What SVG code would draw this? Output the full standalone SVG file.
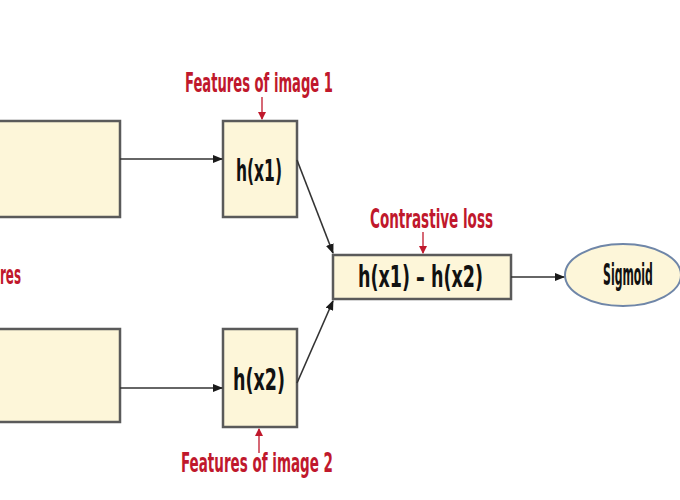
<svg xmlns="http://www.w3.org/2000/svg" width="680" height="500" viewBox="0 0 680 500">
<defs>
<marker id="ah" markerWidth="10" markerHeight="8" refX="9" refY="4" orient="auto" markerUnits="userSpaceOnUse">
<path d="M0,0 L10,4 L0,8 Z" fill="#1a1a1a"/>
</marker>
<marker id="rh" markerWidth="8" markerHeight="8" refX="7" refY="4" orient="auto" markerUnits="userSpaceOnUse">
<path d="M0,0 L8,4 L0,8 Z" fill="#c0182c"/>
</marker>
</defs>
<style>
.box{fill:#fdf6d9;stroke:#5a5a5a;stroke-width:2.5}
.lbl{font-family:"DejaVu Sans Condensed","Liberation Sans Narrow","DejaVu Sans",sans-serif;font-weight:bold;fill:#111;font-size:31px}
.red{font-family:"DejaVu Sans Condensed","Liberation Sans Narrow","DejaVu Sans",sans-serif;font-weight:bold;fill:#c0182c;font-size:27px}
.con{stroke:#333;stroke-width:1.6;fill:none;marker-end:url(#ah)}
.rcon{stroke:#c0182c;stroke-width:1.3;fill:none;marker-end:url(#rh)}
</style>
<rect width="680" height="500" fill="#fff"/>
<g id="input1"><rect class="box" x="-10" y="121" width="130" height="96"/></g>
<g id="input2"><rect class="box" x="-10" y="329" width="130" height="93"/></g>
<g id="hx1"><rect class="box" x="223" y="121" width="74" height="96"/>
<text class="lbl" x="236" y="181" textLength="46" lengthAdjust="spacingAndGlyphs">h(x1)</text></g>
<g id="hx2"><rect class="box" x="223" y="329" width="74" height="98"/>
<text class="lbl" x="233" y="390" textLength="52" lengthAdjust="spacingAndGlyphs">h(x2)</text></g>
<g id="diff"><rect class="box" x="333" y="255" width="178" height="44"/>
<text class="lbl" x="358" y="287" textLength="125" lengthAdjust="spacingAndGlyphs">h(x1) – h(x2)</text></g>
<g id="sigmoid"><ellipse cx="623" cy="275" rx="58" ry="31" fill="#fdf6d9" stroke="#6f86a8" stroke-width="2"/>
<text class="lbl" transform="translate(628,285) scale(0.6,1)" x="0" y="0" font-size="30" text-anchor="middle" textLength="83" lengthAdjust="spacingAndGlyphs">Sigmoid</text></g>
<g id="lbl1"><text class="red" x="185" y="92" textLength="148" lengthAdjust="spacingAndGlyphs">Features of image 1</text></g>
<g id="lbl2"><text class="red" x="181" y="472" textLength="152" lengthAdjust="spacingAndGlyphs">Features of image 2</text></g>
<g id="lbl3"><text class="red" x="370" y="228" textLength="123" lengthAdjust="spacingAndGlyphs">Contrastive loss</text></g>
<g id="lbl4"><text class="red" x="0" y="284" textLength="21" lengthAdjust="spacingAndGlyphs">res</text></g>
<g id="connectors">
<line class="con" x1="120" y1="159" x2="222" y2="159"/>
<line class="con" x1="120" y1="388" x2="222" y2="388"/>
<line class="con" x1="297" y1="160" x2="333" y2="253"/>
<line class="con" x1="297" y1="383" x2="333" y2="301"/>
<line class="con" x1="511" y1="277" x2="564" y2="277"/>
<line class="rcon" x1="262" y1="97" x2="262" y2="119"/>
<line class="rcon" x1="259" y1="453" x2="259" y2="429"/>
<line class="rcon" x1="423" y1="232" x2="423" y2="253"/>
</g>
</svg>
